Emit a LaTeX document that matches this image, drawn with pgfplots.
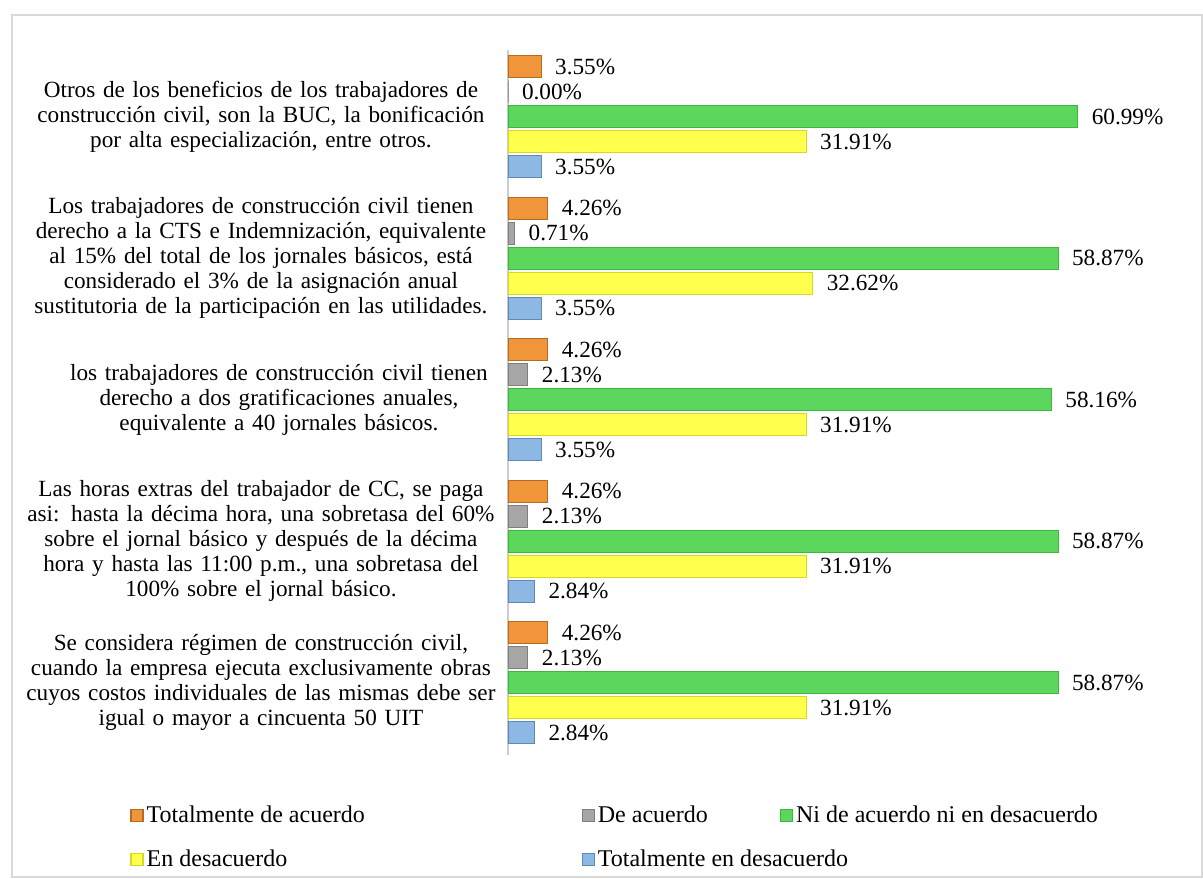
\documentclass[border=0pt]{standalone}
\usepackage{pgfplots}
\pgfplotsset{compat=1.18}
\usepackage{fontspec}
\setmainfont{Liberation Serif}
\definecolor{orF}{HTML}{F0953A}\definecolor{orD}{HTML}{B86A20}
\definecolor{grF}{HTML}{A6A6A6}\definecolor{grD}{HTML}{7F7F7F}
\definecolor{gnF}{HTML}{5CD65C}\definecolor{gnD}{HTML}{3CB83C}
\definecolor{yeF}{HTML}{FFFF4D}\definecolor{yeD}{HTML}{D8D820}
\definecolor{blF}{HTML}{8DB8E3}\definecolor{blD}{HTML}{5F88B4}
\pgfplotstableread{
y  a     b     c      d      e
0  4.26  2.13  58.87  31.91  2.84
1  4.26  2.13  58.87  31.91  2.84
2  4.26  2.13  58.16  31.91  3.55
3  4.26  0.71  58.87  32.62  3.55
4  3.55  0.00  60.99  31.91  3.55
}\datatable
\begin{document}
\begin{tikzpicture}
\path[use as bounding box] (-254pt,-61.5pt) rectangle (347.5pt,377.5pt);
\draw[color=black!15, line width=0.6pt] (-248pt,-61pt) rectangle (347pt,370pt);
\begin{axis}[
  at={(0pt,0pt)}, anchor=south west,
  scale only axis, width=327pt, height=352.5pt,
  xmin=0, xmax=70, ymin=-0.51, ymax=4.47,
  axis x line=none, axis y line*=left,
  y axis line style={draw=black!20, line width=0.8pt, -},
  xbar, bar width=0.155,
  ytick={0,1,2,3,4}, major tick length=0pt,
  yticklabels={
    {Se considera régimen de construcción civil,\\cuando la empresa ejecuta exclusivamente obras\\cuyos costos individuales de las mismas debe ser\\igual o mayor a cincuenta 50 UIT},
    {Las horas extras del trabajador de CC, se paga\\asi: hasta la décima hora, una sobretasa del 60\%\\sobre el jornal básico y después de la décima\\hora y hasta las 11:00 p.m., una sobretasa del\\100\% sobre el jornal básico.},
    {\hspace*{18pt}los trabajadores de construcción civil tienen\\\hspace*{18pt}derecho a dos gratificaciones anuales,\\\hspace*{18pt}equivalente a 40 jornales básicos.},
    {Los trabajadores de construcción civil tienen\\derecho a la CTS e Indemnización, equivalente\\al 15\% del total de los jornales básicos, está\\considerado el 3\% de la asignación anual\\sustitutoria de la participación en las utilidades.},
    {Otros de los beneficios de los trabajadores de\\construcción civil, son la BUC, la bonificación\\por alta especialización, entre otros.}
  },
  yticklabel style={align=center, text width=250pt, font=\fontsize{11.6}{12.5}\selectfont, xshift=5pt},
  /pgf/number format/assume math mode=true,
  nodes near coords={\pgfmathprintnumber[fixed,fixed zerofill,precision=2]{\pgfplotspointmeta}\%},
  nodes near coords style={font=\fontsize{11.6}{12.5}\selectfont, anchor=west, xshift=3.5pt, text=black},
  legend columns=3,
  legend style={at={(-0.587,-0.06)}, anchor=north west, draw=none, fill=none,
    font=\fontsize{12}{13}\selectfont, row sep=8pt,
    nodes={inner xsep=1.5pt}},
  legend cell align=left,
  legend image code/.code={\draw[#1, line width=0.6pt] (0pt,-3pt) rectangle (6pt,3pt);},
]
\addplot[bar shift=0.353, draw=orD, fill=orF] table[x=a,y=y]{\datatable};
\addlegendentry{\makebox[216pt][l]{Totalmente de acuerdo}}
\addplot[bar shift=0.177, draw=grD, fill=grF] table[x=b,y=y]{\datatable};
\addlegendentry{\makebox[89.5pt][l]{De acuerdo}}
\addplot[bar shift=0, draw=gnD, fill=gnF] table[x=c,y=y]{\datatable};
\addlegendentry{Ni de acuerdo ni en desacuerdo}
\addplot[bar shift=-0.177, draw=yeD, fill=yeF] table[x=d,y=y]{\datatable};
\addlegendentry{\makebox[216pt][l]{En desacuerdo}}
\addplot[bar shift=-0.353, draw=blD, fill=blF] table[x=e,y=y]{\datatable};
\addlegendentry{\makebox[89.5pt][l]{Totalmente en desacuerdo}}
\end{axis}
\end{tikzpicture}
\end{document}
